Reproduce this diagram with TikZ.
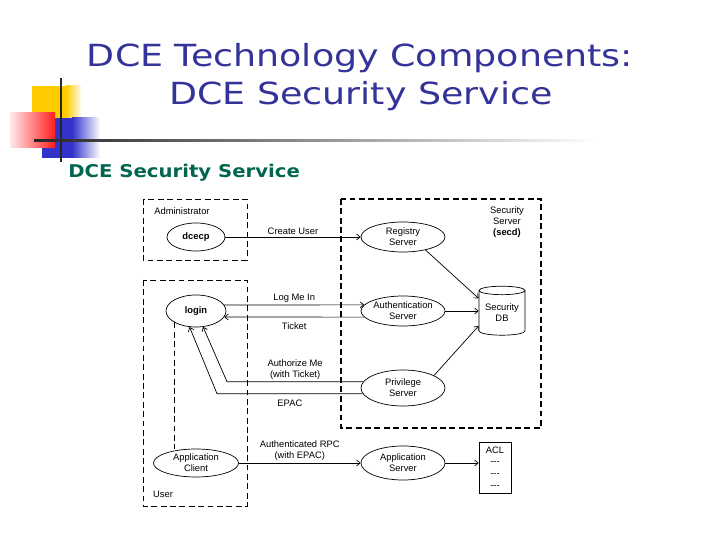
\documentclass[tikz,border=0pt]{standalone}
\usepackage{fontspec}
\setmainfont{Liberation Sans}
\newfontfamily\titlefont[FakeStretch=1.195]{DejaVu Sans}
\newfontfamily\subfont[FakeStretch=1.12]{DejaVu Sans}
\usetikzlibrary{arrows.meta,shapes.geometric,positioning}
\definecolor{titleblue}{RGB}{51,51,153}
\definecolor{subgreen}{RGB}{0,102,80}
\definecolor{logoyellow}{RGB}{255,204,0}
\definecolor{logored}{RGB}{255,30,30}
\definecolor{logoblue}{RGB}{51,51,204}
\tikzset{every picture/.style={line width=0.6pt}}

\begin{document}
\begin{tikzpicture}[x=0.03cm,y=-0.03cm,
    oval/.style={draw,ellipse,inner sep=0pt,align=center,font=\fontsize{8}{9.5}\selectfont},
    grp/.style={draw,dash pattern=on 5pt off 3pt},
    grpthick/.style={grp,line width=1.3pt},
    arr/.style={-{Straight Barb[length=3pt,width=5pt]}},
    lbl/.style={font=\fontsize{8}{9.5}\selectfont,align=center,inner sep=1.5pt}]
    \useasboundingbox (0,0) rectangle (720,540);

    % logo
    \fill[logoyellow] (32,86) rectangle (66,118);
    \shade[left color=logoyellow,right color=white] (66,86) rectangle (82,118);
    \fill[logoblue] (42,118) rectangle (72,158);
    \shade[left color=logoblue,right color=white] (72,118) rectangle (100,158);
    \shade[left color=red!8,right color=logored] (10,113) rectangle (55,148);
    \fill[black!85] (60,78) rectangle (62,162);
    \shade[left color=black!85,right color=white] (34,140) rectangle (600,142);

    % titles
    \node[anchor=base,text=titleblue,font=\titlefont\fontsize{26}{30}\selectfont] (title1) at (360,67) {DCE Technology Components:};
    \node[anchor=base,text=titleblue,font=\titlefont\fontsize{26}{30}\selectfont] (title2) at (361,105) {DCE Security Service};
    \node[anchor=base west,inner sep=0pt,text=subgreen,font=\subfont\bfseries\fontsize{15}{18}\selectfont] (subtitle) at (68,178) {DCE Security Service};

    % groups
    \draw[grp] (143,199) rectangle (247,260);
    \draw[grp] (143,280) rectangle (247,506);
    \draw[grpthick] (341,199) rectangle (541,428);
    \node[lbl] (adminlbl) at (182,211) {Administrator};
    \node[lbl] (userlbl) at (163,494) {User};
    \node[lbl] (secdlbl) at (507,222) {Security\\Server\\\textbf{(secd)}};

    % client side
    \node[oval,minimum width=1.74cm,minimum height=0.84cm] (dcecp) at (196,237) {\textbf{dcecp}};
    \node[oval,minimum width=1.8cm,minimum height=0.96cm] (login) at (196,311) {\textbf{login}};
    \node[oval,minimum width=2.55cm,minimum height=0.84cm] (appcli) at (196,463) {Application\\Client};

    % server side
    \node[oval,minimum width=2.52cm,minimum height=0.9cm] (reg) at (403,237) {Registry\\Server};
    \node[oval,minimum width=2.52cm,minimum height=0.9cm] (auth) at (403,311) {Authentication\\Server};
    \node[oval,minimum width=2.52cm,minimum height=1.08cm] (priv) at (403,388) {Privilege\\Server};
    \node[oval,minimum width=2.52cm,minimum height=1.02cm] (appsrv) at (403,463) {Application\\Server};
    \node[draw,cylinder,shape border rotate=90,aspect=0.25,minimum width=1.38cm,minimum height=1.47cm,
          inner sep=0pt,align=center,font=\fontsize{8}{9.5}\selectfont] (db) at (502,313) {Security\\DB};
    \node[draw,rectangle,inner sep=1pt,minimum width=0.96cm,minimum height=1.53cm,align=center,
          font=\fontsize{8}{10}\selectfont] (acl) at (495,467.5) {ACL\\-{}-{}-\\-{}-{}-\\-{}-{}-};

    % bends
    \coordinate (amx) at (227,0);
    \coordinate (epx) at (217,0);

    % messages
    \draw[arr] (dcecp.east) -- node[lbl,above] {Create User} (reg.west);
    \draw[arr] (login.12) -- node[lbl,above] {Log Me In} (auth.171);
    \draw[arr] (auth.189) -- node[lbl,below=3pt] {Ticket} (login.348);
    \draw[arr] (priv.171) -- node[lbl,above] {Authorize Me\\(with Ticket)} (priv.171 -| amx) -- (login.294);
    \draw[arr] (priv.188) -- node[lbl,below=3.5pt] {EPAC} (priv.188 -| epx) -- (login.248);
    \draw[arr] (appcli.east) -- node[lbl,above] {Authenticated RPC\\(with EPAC)} (appsrv.west);
    \draw[arr] (appsrv.east) -- (appsrv.east -| acl.west);
    \draw[grp] (login.208) -- (login.208 |- appcli.north);

    % database links
    \draw[arr] (reg.-30) -- (db.148);
    \draw[arr] (auth.east) -- (auth.east -| db.west);
    \draw[arr] (priv.22) -- (db.209);
\end{tikzpicture}
\end{document}
